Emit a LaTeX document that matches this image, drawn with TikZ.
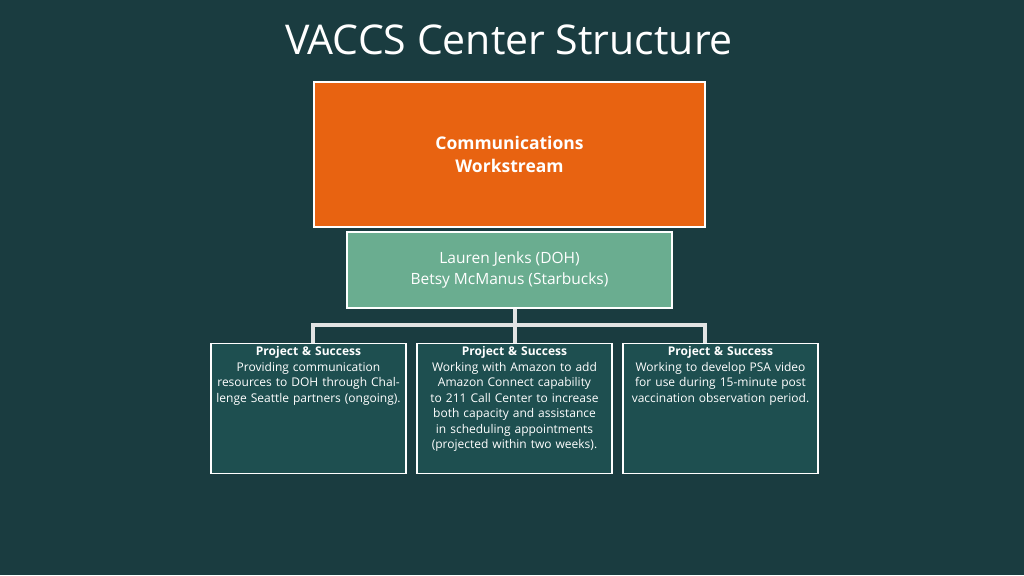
\documentclass[tikz,border=0pt]{standalone}
\usepackage{fontspec}
\setmainfont{Open Sans}
\usetikzlibrary{positioning}
\definecolor{bgteal}{HTML}{1A3C40}
\definecolor{boxteal}{HTML}{1E4F50}
\definecolor{leadorange}{HTML}{E86311}
\definecolor{leadgreen}{HTML}{6AAD90}
\definecolor{linkgray}{HTML}{E2E4E4}
\tikzset{
  box/.style={draw=white, line width=1.2pt, inner sep=2pt, align=center, text=white},
  project/.style={box, fill=boxteal, minimum width=195pt, minimum height=130pt,
    text width=185pt, anchor=north, font=\fontsize{12}{15.5}\selectfont},
  link/.style={draw=linkgray, line width=4pt}
}
\begin{document}
\begin{tikzpicture}[x=1pt,y=-1pt]
\useasboundingbox[fill=bgteal] (0,0) rectangle (1024,575);

\node[text=white, font=\fontsize{41}{48}\selectfont] (title) at (509,40) {VACCS Center Structure};

\node[box, fill=leadorange, minimum width=391pt, minimum height=145pt,
  font=\bfseries\fontsize{17.5}{23}\selectfont] (comms) at (509.5,154.5) {Communications\\Workstream};
\node[box, fill=leadgreen, minimum width=325pt, minimum height=76pt,
  font=\fontsize{15.5}{21}\selectfont] (leads) at (509.5,270) {Lauren Jenks (DOH)\\Betsy McManus (Starbucks)};

% project boxes
\node[project] (proj1) at (308.5,343) {\vspace*{-120pt}};
\node[project] (proj2) at (514.5,343) {};
\node[project] (proj3) at (720.5,343) {};
\node[anchor=north, text width=190pt, align=center, text=white, font=\fontsize{12}{15.5}\selectfont]
  at (proj1.north) {\textbf{Project \& Success}\\Providing communication resources to DOH through Challenge Seattle partners (ongoing).};
\node[anchor=north, text width=190pt, align=center, text=white, font=\fontsize{12}{15.5}\selectfont]
  at (proj2.north) {\textbf{Project \& Success}\\Working with Amazon to add Amazon Connect capability to 211 Call Center to increase both capacity and assistance in scheduling appointments (projected within two weeks).};
\node[anchor=north, text width=190pt, align=center, text=white, font=\fontsize{12}{15.5}\selectfont]
  at (proj3.north) {\textbf{Project \& Success}\\Working to develop PSA video for use during 15-minute post vaccination observation period.};

% connectors
\coordinate (bus) at (515,325);
\draw[link] (leads.south -| bus) -- (bus);
\draw[link] (313,343) -- (313,325) -- (705,325) -- (705,343);
\draw[link] (bus) -- (proj2.north -| bus);
\end{tikzpicture}
\end{document}
